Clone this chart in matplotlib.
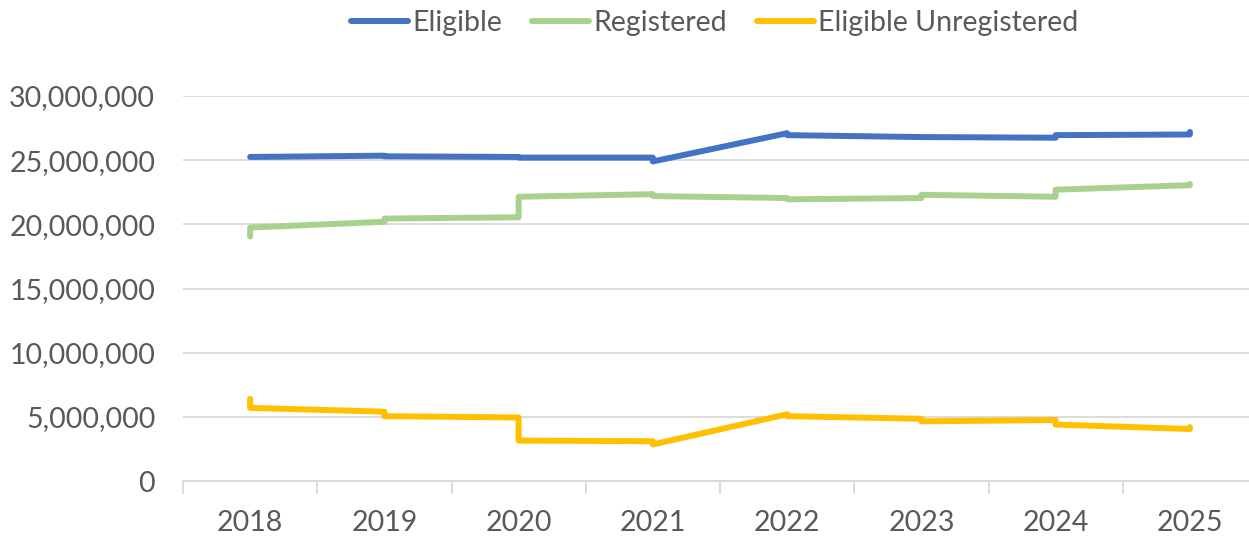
import matplotlib
matplotlib.use('Agg')
from matplotlib import pyplot as plt
from matplotlib.ticker import FuncFormatter

# data: two readings per year (start, end), joined in order
years = ['2018', '2019', '2020', '2021', '2022', '2023', '2024', '2025']
eligible = [25.25, 25.25, 25.35, 25.3, 25.25, 25.2, 25.2, 24.9,
            27.1, 26.95, 26.8, 26.8, 26.75, 26.95, 27.0, 27.2]
registered = [19.05, 19.75, 20.2, 20.45, 20.55, 22.15, 22.35, 22.2,
              22.05, 21.95, 22.05, 22.3, 22.15, 22.7, 23.05, 23.15]
unregistered = [6.4, 5.7, 5.4, 5.05, 4.95, 3.15, 3.1, 2.85,
                5.2, 5.05, 4.85, 4.65, 4.75, 4.4, 4.05, 4.2]

names = ['Eligible', 'Registered', 'Eligible Unregistered']
colors = ['#4472C4', '#A9D18E', '#FFC000']

plt.rcParams['font.family'] = ['Lato', 'DejaVu Sans']
txt = '#595959'

fig = plt.figure(figsize=(12.49, 5.37), dpi=100)
ax = fig.add_axes([183 / 1249, 1 - 481 / 537, 1074 / 1249, 385 / 537])

xs = [i // 2 for i in range(len(eligible))]
series = [eligible, registered, unregistered]
for vals, name, c in zip(series, names, colors):
    ax.plot(xs, [v * 1e6 for v in vals], color=c, lw=4.3, label=name,
            solid_joinstyle='round', solid_capstyle='round', zorder=3)

ax.set_xlim(-0.5, len(years) - 0.5)
ax.set_ylim(0, 30e6)
ax.set_yticks(range(0, 30000001, 5000000))
ax.yaxis.set_major_formatter(FuncFormatter(lambda v, p: f'{int(v):,}'))
ax.set_xticks(range(len(years)))
ax.set_xticklabels(years)
ax.set_xticks([i - 0.5 for i in range(len(years))], minor=True)

ax.grid(axis='y', color='#D9D9D9', lw=1.3)
ax.set_axisbelow(True)
for s in ['top', 'right', 'left']:
    ax.spines[s].set_visible(False)
ax.spines['bottom'].set_color('#D9D9D9')
ax.spines['bottom'].set_linewidth(1.3)

ax.tick_params(axis='y', length=0, pad=20, labelsize=20.5, labelcolor=txt)
ax.tick_params(axis='x', which='major', length=0, pad=21, labelsize=20.5, labelcolor=txt)
ax.tick_params(axis='x', which='minor', length=9, width=1.3, color='#D9D9D9')

fig.legend(loc='upper center', bbox_to_anchor=(715 / 1249, 1.03), ncol=3,
           frameon=False, fontsize=20.5, labelcolor=txt, handlelength=2.0,
           handletextpad=0.15, columnspacing=1.05)

fig.savefig('out.png', dpi=100)
